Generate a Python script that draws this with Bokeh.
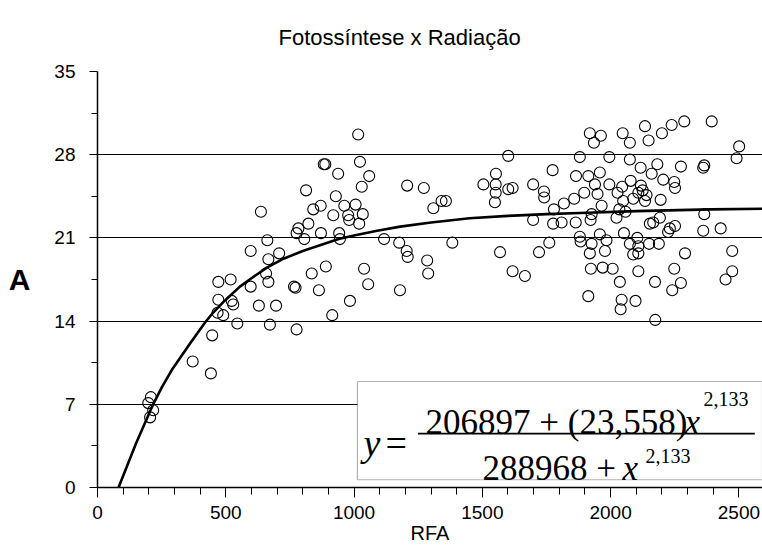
from bokeh.plotting import figure
from bokeh.models import FixedTicker, Label, BoxAnnotation, Range1d
from bokeh.embed import file_html
from bokeh.resources import INLINE

# Observed points: RFA (x) and A (y)
rfa = [1016, 882, 888, 938, 1023, 1059, 1030, 813, 1207, 1272, 637, 929, 841, 870, 962,
       1006, 919, 977, 1034, 981, 1020, 822, 783, 776, 806, 871, 942, 945, 662, 1117,
       1176, 1205, 1209, 597, 708, 666, 1285, 890, 835, 1039,
       1289, 1055, 471, 519, 597, 666, 657, 766, 772, 863, 984, 1179, 471, 529, 523,
       468, 490, 629, 696, 915, 545, 672, 776, 447, 371, 442, 208, 198, 217, 205,
       1309, 1341, 1358, 1383, 1601, 1553, 1504, 1552, 1552, 1549, 1601, 1618, 1698, 1740, 1741,
       1774, 1779, 1818, 1858, 1865, 1880, 1919, 1962, 1935, 1995, 1913, 1958, 1897, 1949, 1939,
       1995, 2027, 1965, 2047, 2075, 2075, 2117, 2134, 2148, 2200, 2238, 2287, 2394, 2501, 2491,
       2274, 2361, 2365, 2182, 2160, 2205, 2078, 2248, 2251, 2045, 2118, 2108, 2125, 2140, 2134,
       2088, 2195, 2049, 2058, 2023, 2034, 1922, 1926, 1864, 1809, 1776, 1698, 2153, 2166, 2192,
       2251, 2231, 2224, 2365, 2361, 2429, 1880, 1883, 1926, 1958, 1984, 2052, 2075, 2104, 2108,
       2150, 2188, 1919, 1978, 2088, 2108, 2290, 2474, 1923, 1969, 2008, 2036, 2108, 2248, 2274,
       2240, 2173, 2474, 2448, 1913, 2043, 2039, 2097, 2174, 1569, 1618, 1666, 1721, 1761]
a_obs = [29.7, 27.2, 27.2, 26.4, 27.4, 26.2, 25.3, 25.0, 25.4, 25.2, 23.2, 24.5, 23.4, 23.7, 23.7,
         23.8, 22.9, 22.9, 23.0, 22.5, 22.2, 22.2, 21.8, 21.4, 20.9, 21.4, 21.4, 20.9, 20.8, 20.9,
         20.6, 19.9, 19.4, 19.9, 19.7, 19.2, 19.1, 18.6, 18.0, 18.4,
         18.0, 17.1, 17.3, 17.5, 16.9, 17.3, 18.0, 16.9, 16.8, 16.6, 15.7, 16.6, 15.8, 15.4, 15.7,
         14.7, 14.5, 15.3, 15.3, 14.5, 13.8, 13.7, 13.3, 12.8, 10.6, 9.6, 7.6, 7.1, 6.5, 5.9,
         23.5, 24.1, 24.1, 20.6, 27.9, 26.4, 25.5, 25.5, 24.8, 24.0, 25.1, 25.2, 25.5, 24.9, 24.4,
         26.7, 23.4, 23.9, 24.3, 26.2, 27.8, 29.8, 29.6, 29.0, 27.8, 26.2, 26.5, 24.8, 24.7, 25.5,
         25.5, 24.8, 23.7, 29.8, 29.0, 27.6, 26.9, 30.4, 29.2, 29.8, 30.5, 30.8, 30.8, 28.7, 27.7,
         27.0, 26.9, 27.1, 27.2, 26.4, 25.9, 25.8, 25.7, 25.2, 25.3, 25.4, 24.8, 25.0, 24.6, 24.1,
         24.3, 24.2, 24.1, 23.2, 22.7, 23.4, 22.5, 23.0, 22.3, 22.3, 22.2, 22.5, 22.2, 22.3, 22.7,
         22.0, 21.8, 21.5, 23.0, 21.6, 21.8, 21.1, 20.7, 20.5, 21.3, 20.8, 21.4, 20.5, 21.0, 20.3,
         20.5, 20.5, 19.7, 19.9, 19.6, 19.7, 19.7, 19.9, 18.4, 18.5, 18.4, 17.3, 18.2, 18.4, 17.2,
         16.6, 17.3, 18.2, 17.5, 16.1, 15.8, 15.0, 15.7, 14.1, 19.8, 18.2, 17.8, 19.8, 20.6]

# Fitted curve
curve_x = [82, 150, 217, 250, 290, 325, 360, 390, 420, 450, 490, 520, 555, 600, 660, 720, 800,
           870, 940, 1000, 1090, 1180, 1300, 1450, 1600, 1750, 1880, 2100, 2390, 2592]
curve_y = [0.0, 3.7, 7.0, 8.4, 9.9, 11.0, 12.1, 13.0, 13.9, 14.7, 15.6, 16.2, 16.9, 17.6, 18.5,
           19.2, 19.9, 20.4, 20.9, 21.2, 21.6, 21.95, 22.3, 22.65, 22.85, 23.0, 23.1, 23.25,
           23.4, 23.45]

x_ticks = [0, 500, 1000, 1500, 2000, 2500]
x_minor = list(range(0, 2600, 100))
y_ticks = [0, 7, 14, 21, 28, 35]
y_minor = [3.5, 10.5, 17.5, 24.5, 31.5]

title_text = "Fotossíntese x Radiação"
x_label = "RFA"
y_label = "A"

p = figure(width=762, height=552, x_range=Range1d(0, 2592), y_range=Range1d(0, 35),
           output_backend="svg", toolbar_location=None,
           min_border_left=97, min_border_right=0, min_border_top=71, min_border_bottom=65)
p.outline_line_color = None
p.background_fill_color = "white"
p.border_fill_color = "white"

# a blank second line lifts the title further from the plot area
p.title.text = title_text + "\n\u00a0"
p.title.text_font = "Liberation Sans"
p.title.text_font_size = "22px"
p.title.text_font_style = "normal"
p.title.text_color = "black"
p.title.text_line_height = 0.65
p.title.align = "left"
p.title.offset = 181

p.xaxis.ticker = FixedTicker(ticks=x_ticks, minor_ticks=x_minor)
p.yaxis.ticker = FixedTicker(ticks=y_ticks, minor_ticks=y_minor)
p.xgrid.grid_line_color = None
p.ygrid.ticker = FixedTicker(ticks=y_ticks)
p.ygrid.grid_line_color = "black"
p.ygrid.grid_line_width = 1

for ax in (p.xaxis, p.yaxis):
    ax.axis_line_color = "black"
    ax.axis_line_width = 1.5
    ax.major_tick_line_color = "black"
    ax.minor_tick_line_color = "black"
    ax.major_tick_in = 0
    ax.minor_tick_in = 0
    ax.major_label_text_font = "Liberation Sans"
    ax.major_label_text_font_size = "19px"
    ax.major_label_text_color = "black"
    ax.axis_label_text_font = "Liberation Sans"
    ax.axis_label_text_font_style = "normal"
    ax.axis_label_text_color = "black"
p.xaxis.major_tick_out = 10
p.xaxis.minor_tick_out = 7
p.xaxis.major_label_standoff = 8
p.yaxis.major_tick_out = 8
p.yaxis.minor_tick_out = 6
p.yaxis.major_label_standoff = 14

p.xaxis.axis_label = x_label
p.xaxis.axis_label_text_font_size = "20px"
p.xaxis.axis_label_standoff = 0

p.yaxis.axis_label = y_label
p.yaxis.axis_label_text_font_size = "30px"
p.yaxis.axis_label_text_font_style = "bold"
p.yaxis.axis_label_standoff = 21
try:
    p.yaxis.axis_label_orientation = "horizontal"
except Exception:
    pass

p.scatter(rfa, a_obs, marker="circle", size=11, fill_color=None, line_color="black", line_width=1.1)
p.line(curve_x, curve_y, line_color="black", line_width=2.6, line_join="round")

# Equation box
p.add_layout(BoxAnnotation(left=1013, bottom=0.65, top=8.92, fill_color="white", fill_alpha=1,
                           line_color="black", line_width=1.2, level="annotation"))
p.add_layout(BoxAnnotation(left=1249, right=2562, bottom=4.45, top=4.6, fill_color="black",
                           fill_alpha=1, line_color=None, level="annotation"))

def lab(text, cx, cy, size, font="Liberation Serif", style="normal", align="left", baseline="alphabetic"):
    p.add_layout(Label(x=cx - 97, y=487 - cy, x_units="screen", y_units="screen", text=text,
                       text_font=font, text_font_size=size, text_font_style=style,
                       text_align=align, text_baseline=baseline, text_color="black"))

lab("y", 363, 442, "38px", style="italic")
lab("=", 385, 442, "38px")
lab("206897 + (23,558)", 425, 422, "35px")
lab("x", 684, 422, "35px", style="italic")
lab("2,133", 703, 398, "20px")
lab("288968 + ", 482, 468, "35px")
lab("x", 622, 468, "35px", style="italic")
lab("2,133", 645, 455, "20px")

open("out.html", "w").write(file_html(p, INLINE))
